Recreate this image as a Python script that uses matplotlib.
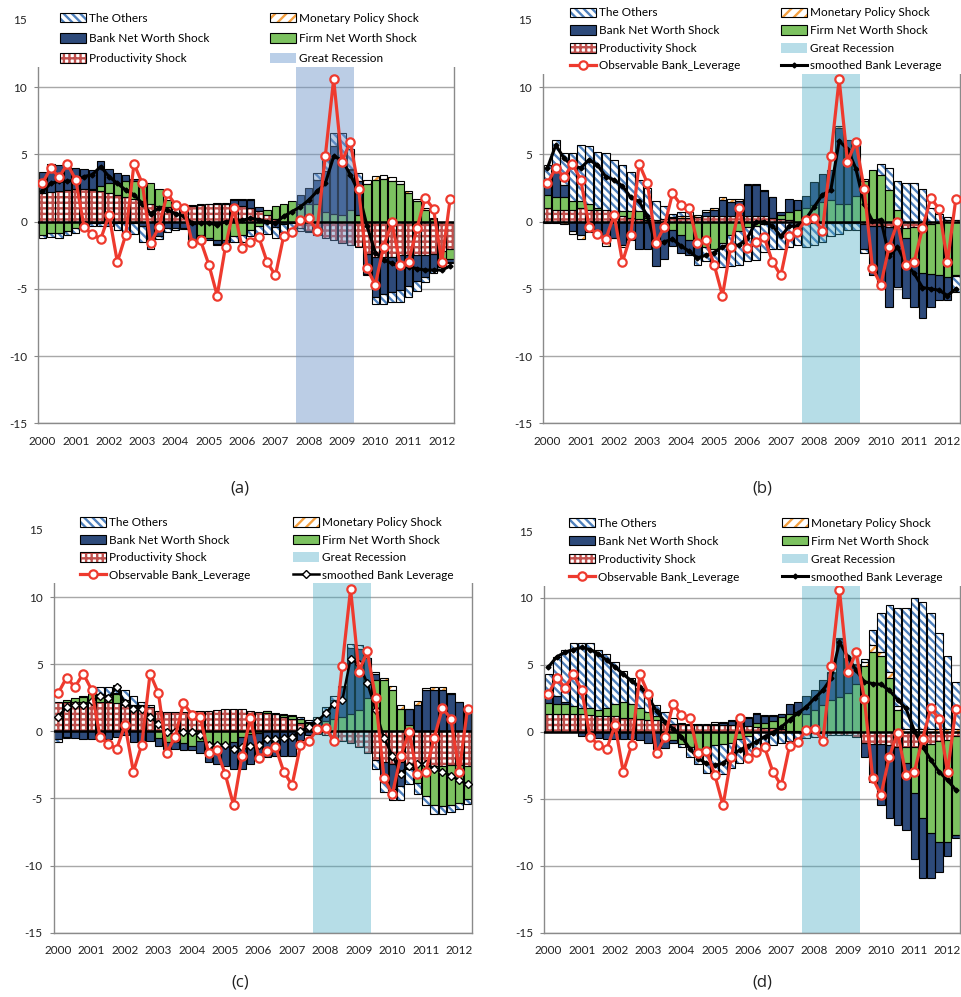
import numpy as np
import matplotlib
matplotlib.use("Agg")
import matplotlib.pyplot as plt
from matplotlib.patches import Rectangle, Patch
from matplotlib.lines import Line2D

plt.rcParams['font.family'] = ['Lato', 'DejaVu Sans']
plt.rcParams['hatch.linewidth'] = 1.7

years = [str(y) for y in range(2000, 2013)]
N = 50

observable = [2.85, 4.0, 3.3, 4.3, 3.1, -0.4, -0.95, -1.3, 0.5, -3.0, -1.0, 4.3, 2.85, -1.6, -0.4,
              2.1, 1.25, 1.05, -1.6, -1.4, -3.2, -5.5, -1.85, 1.0, -1.95, -1.5, -1.15, -3.0, -4.0,
              -1.05, -0.75, 0.15, 0.25, -0.7, 4.9, 10.6, 4.45, 5.95, 2.45, -3.45, -4.7, -1.85, -0.05,
              -3.2, -3.0, -0.5, 1.75, 0.95, -3.0, 1.7]

# ---------------- panel (a) ----------------
a_prod = [2.1, 2.2, 2.3, 2.35, 2.4, 2.4, 2.35, 2.25, 2.1, 2.0, 1.85, 1.7, 1.5, 1.35, 1.2,
          1.1, 1.0, 1.1, 1.2, 1.25, 1.3, 1.35, 1.35, 1.3, 1.2, 1.0, 0.8, 0.5, 0.2, 0.0,
          -0.1, -0.5, -0.7, -1.0, -1.2, -1.4, -1.6, -1.75, -1.9, -2.4, -2.6, -2.6, -2.6, -2.5, -2.5,
          -2.5, -2.5, -2.4, -2.2, -2.0]
a_firm = [-1.0, -0.85, -0.85, -0.7, -0.5, -0.05, 0.1, 0.4, 0.8, 0.85, 1.2, 1.3, 1.45, 1.55, 1.2,
          0.5, 0.05, 0.0, -0.2, -1.0, -1.2, -1.35, -1.4, -1.1, -1.0, -0.6, -0.3, 0.4, 0.95, 1.3,
          1.5, 1.3, 1.3, 1.3, 0.75, 0.6, 0.5, 0.85, 0.5, 2.8, 3.1, 3.2, 3.05, 2.8, 2.1,
          1.55, 0.9, 0.2, -0.6, -0.8]
a_bank = [1.6, 2.1, 1.9, 1.8, 1.6, 1.55, 1.4, 1.85, 1.05, 0.8, 0.45, 0.2, -0.3, -1.6, -1.1,
          -0.5, -0.5, -0.5, -1.2, -0.35, -0.15, -0.3, -0.2, 0.3, 0.4, 0.6, 0.3, -0.1, -0.4, -0.2,
          0.0, 0.7, 1.2, 1.8, 3.0, 5.0, 3.85, 3.0, 2.5, -1.5, -3.0, -2.8, -2.6, -2.6, -2.3,
          -1.9, -1.6, -1.2, -0.4, -0.2]
a_mon = [0, 0, 0, 0, 0, -0.1, -0.1, -0.1, -0.1, -0.1, -0.1, -0.1, -0.05, 0, 0,
         0, 0, 0.05, 0.05, 0.05, 0.05, 0.05, 0.05, 0.05, 0.05, 0.1, 0, 0, 0, 0,
         0, 0, 0, 0, 0, 0, 0, 0.05, 0.05, 0.3, 0.3, 0.3, 0.3, 0.2, 0.2,
         0.15, 0.1, 0.05, 0, 0]
a_oth = [-0.25, -0.3, -0.35, -0.3, -0.35, -0.15, -0.2, -0.2, -0.25, -0.5, -0.8, -0.8, -1.2, -0.4, -0.2,
         -0.3, -0.1, -0.05, 0, 0, 0, -0.05, -0.05, -0.4, -0.5, -0.5, -0.6, -0.8, -0.8, -0.6,
         -0.6, -0.2, -0.1, 0.5, 0.9, 1.0, 2.25, 1.5, 0.55, -0.1, -0.5, -0.7, -0.8, -0.9, -0.8,
         -0.75, -0.4, -0.25, -0.2, -0.1]
a_smooth = [2.25, 2.85, 3.0, 3.0, 3.1, 3.35, 3.5, 4.1, 3.35, 2.85, 2.35, 2.0, 1.35, 0.6, 1.0,
            0.85, 0.6, 0.4, -0.1, -0.1, -0.1, -0.25, 0.0, 0.1, 0.1, 0.25, 0.15, 0.0, -0.1, 0.4,
            0.75, 1.1, 1.6, 2.25, 2.85, 4.85, 4.6, 3.5, 2.2, -0.3, -2.3, -2.85, -3.1, -3.35, -3.35,
            -3.5, -3.6, -3.6, -3.6, -3.3]

# ---------------- panel (b) ----------------
b_prod = [1.0, 0.9, 0.9, 0.9, 1.05, 0.9, 0.9, 0.9, 0.5, 0.4, 0.3, 0.2, 0.1, 0.1, 0.2,
          0.3, 0.3, 0.3, 0.35, 0.4, 0.4, 0.4, 0.45, 0.5, 0.4, 0.4, 0.4, 0.3, 0.2, 0.1,
          0.0, -0.05, -0.1, -0.1, -0.1, -0.1, -0.1, -0.1, -0.2, -0.3, -0.35, -0.4, -0.5, -0.45, -0.4,
          -0.3, -0.2, -0.1, 0.1, 0.1]
b_firm = [1.0, 0.9, 0.95, 0.6, 0.45, 0.45, 0.1, 0.0, 0.2, 0.4, 0.5, 0.6, 0.2, 0.0, -0.3,
          -0.6, -1.0, -1.4, -1.6, -1.9, -2.0, -1.6, -1.0, -0.7, -0.4, -0.3, -0.2, 0.0, 0.3, 0.6,
          0.85, 1.0, 1.25, 1.45, 1.6, 1.3, 1.3, 1.9, 3.0, 3.85, 3.5, 2.35, 0.85, -0.8, -2.6,
          -3.5, -3.7, -3.9, -4.1, -3.95]
b_bank = [0.9, 2.0, 0.85, -0.7, -1.0, -0.5, -0.6, -1.6, -1.2, -1.75, -1.3, -2.0, -2.0, -3.3, -2.5,
          -1.2, -1.35, -1.1, -1.0, 0.3, 0.5, 1.2, 1.0, 1.0, 2.3, 2.3, 1.85, 1.5, 0.25, 0.95,
          0.75, 0.9, 1.7, 2.1, 2.25, 5.7, 4.8, 3.95, -1.8, -3.7, -4.25, -5.95, -4.35, -4.45, -3.35,
          -3.4, -2.45, -1.85, -1.75, -0.1]
b_mon = [-0.1, -0.1, -0.15, -0.2, -0.3, -0.3, -0.15, -0.2, -0.05, -0.15, -0.1, 0, 0, 0, 0,
         0.05, 0.15, 0.15, 0.15, 0.15, 0.15, 0.2, 0.2, 0.2, 0.1, 0.1, 0.1, 0.05, 0, 0,
         0, 0, 0, 0, 0, 0.1, 0, 0, 0.15, 0, 0, 0, 0, 0, 0,
         0, 0, 0, 0.05, 0.05]
b_oth = [1.3, 2.3, 2.4, 3.6, 4.2, 4.25, 4.2, 4.2, 3.9, 3.4, 2.9, 2.3, 2.2, 1.45, 0.95,
         0.25, 0.3, 0.25, -0.65, -1.0, -1.2, -1.75, -2.3, -2.5, -2.5, -2.55, -2.05, -2.0, -2.0, -1.85,
         -1.75, -1.8, -1.6, -1.4, -1.0, -0.8, -0.5, -0.5, -0.35, 0.0, 0.8, 1.65, 2.15, 2.85, 2.85,
         2.4, 1.0, 0.55, 0.2, -1.2]
b_smooth = [4.0, 5.7, 4.7, 4.15, 4.0, 4.6, 4.2, 3.35, 3.1, 2.65, 1.8, 1.5, 0.4, -1.75, -1.5,
            -1.3, -1.8, -2.2, -2.7, -2.5, -2.3, -1.85, -1.75, -1.75, -1.2, -0.05, 0.0, -0.3, -1.1, -0.35,
            -0.3, 0.2, 1.1, 2.0, 2.35, 6.0, 5.4, 3.95, 1.3, 0.05, 0.15, -2.55, -1.9, -3.1, -3.85,
            -4.9, -5.0, -5.1, -5.5, -5.0]

# ---------------- panel (c) ----------------
c_prod = [2.2, 2.2, 2.2, 2.2, 2.2, 2.2, 2.15, 2.1, 2.0, 1.9, 1.9, 1.8, 1.55, 1.45, 1.45,
          1.45, 1.5, 1.55, 1.55, 1.6, 1.65, 1.7, 1.7, 1.55, 1.45, 1.4, 1.3, 1.1, 0.9, 0.6,
          0.3, -0.2, -0.3, -0.5, -0.7, -0.9, -1.15, -1.6, -2.15, -2.3, -2.4, -2.3, -2.8, -2.4, -2.5,
          -2.6, -2.6, -2.5, -2.5, -2.6]
c_firm = [0.0, 0.1, 0.25, 0.35, 0.55, 0.6, 0.55, 0.7, 0.3, 0.1, 0.05, 0.0, -0.5, -0.8, -0.8,
          -0.9, -1.1, -0.7, -0.9, -1.05, -1.1, -0.8, -0.4, -0.2, -0.1, 0.1, 0.05, 0.15, 0.25, 0.3,
          0.35, 0.5, 0.8, 0.9, 1.1, 1.3, 1.6, 2.45, 3.8, 3.8, 3.1, 1.7, 0.45, -1.45, -2.3,
          -2.9, -2.95, -3.0, -2.85, -2.45]
c_bank = [-0.55, -0.45, -0.5, -0.6, -0.6, -0.55, -0.6, -0.45, -0.3, -0.8, -0.85, -0.7, -0.6, -0.5, -0.55,
          -0.5, -0.3, -0.9, -1.4, -1.35, -1.45, -2.0, -2.4, -2.2, -1.95, -1.9, -1.8, -1.8, -1.85, -0.65,
          -0.3, 0.4, 0.75, 1.4, 2.2, 4.9, 4.5, 3.0, 0.5, -1.5, -1.9, -1.8, 1.2, 1.95, 3.05,
          3.1, 3.1, 2.75, 2.15, 1.5]
c_mon = [0, 0, 0, 0, 0, 0, 0, 0.05, 0, 0, 0, 0, 0, 0, 0,
         0, 0, 0, 0, 0, 0, 0, 0, 0, 0, 0.05, 0, 0, 0.05, 0.05,
         0.05, 0, 0, 0, 0, 0, 0, 0.05, 0.15, 0.2, 0.25, 0.3, 0.05, 0.3, 0.15,
         0.2, 0.2, 0.1, 0.05, 0.05]
c_oth = [-0.25, -0.05, 0.0, 0.1, 0.05, 0.5, 0.6, 0.6, 0.8, 0.65, 0.2, 0.2, 0, 0, 0,
         0, 0, 0, 0, 0, 0, 0, 0, 0, 0, 0, 0, 0.05, 0, 0.1,
         0.15, 0.15, 0.3, 0.35, 0.1, 0.3, 0.3, 0.0, -0.65, -0.7, -0.8, -1.0, -1.1, -0.8, -0.7,
         -0.65, -0.6, -0.5, -0.4, -0.35]
c_smooth = [1.1, 1.8, 1.95, 1.95, 2.25, 2.6, 2.45, 3.3, 2.1, 1.7, 1.7, 1.1, 0.55, -0.05, -0.05,
            -0.05, -0.05, -0.25, -1.0, -1.0, -1.0, -1.3, -1.2, -1.1, -1.0, -0.6, -0.6, -0.5, -0.4, 0.05,
            0.3, 0.75, 1.35, 2.05, 2.3, 5.4, 5.0, 3.6, 1.6, -0.5, -1.8, -3.15, -2.55, -2.4, -2.4,
            -2.8, -3.0, -3.3, -3.65, -3.95]

# ---------------- panel (d) ----------------
d_prod = [1.3, 1.3, 1.3, 1.3, 1.3, 1.25, 1.2, 1.2, 1.15, 1.05, 1.0, 0.95, 0.9, 0.85, 0.7,
          0.6, 0.55, 0.5, 0.5, 0.5, 0.5, 0.5, 0.5, 0.45, 0.4, 0.35, 0.3, 0.3, 0.2, 0.1,
          0.05, 0.0, -0.05, -0.1, -0.2, -0.2, -0.2, -0.35, -0.85, -0.9, -0.9, -1.0, -1.1, -1.1, -1.1,
          -1.05, -0.9, -0.7, -0.6, -0.3]
d_firm = [0.85, 0.8, 0.75, 0.6, 0.5, 0.5, 0.45, 0.6, 0.95, 1.2, 1.1, 0.85, 0.6, 0.3, -0.7,
          -0.6, -0.9, -1.1, -1.25, -1.1, -0.95, -0.9, -0.8, -0.5, -0.3, 0.3, 0.35, 0.5, 0.9, 1.2,
          1.45, 1.35, 1.6, 2.0, 2.4, 2.6, 2.9, 3.6, 4.9, 6.0, 5.65, 4.0, 1.6, -1.2, -3.5,
          -5.4, -6.65, -7.5, -7.6, -7.4]
d_bank = [0.5, 0.6, 0.15, 0.0, -0.3, -0.4, -0.45, -0.5, -0.5, -0.5, -0.55, -0.6, -0.8, -1.3, -0.5,
          -0.2, 0.0, 0.0, 0.0, 0.0, 0.1, 0.15, 0.3, 0.45, 0.6, 0.65, 0.55, 0.35, 0.2, 0.8,
          0.75, 1.3, 1.55, 1.85, 2.0, 4.3, 2.5, 1.4, -1.0, -2.85, -4.6, -5.45, -5.85, -5.0, -4.9,
          -4.45, -3.4, -2.3, -1.1, -0.25]
d_mon = [0, 0, 0, 0, 0, 0, 0, 0, 0, 0, 0, 0, 0, 0, 0,
         0, 0.1, 0.1, 0.1, 0.1, 0.1, 0.1, 0.1, 0.1, 0.1, 0.1, 0.05, 0.1, 0.05, 0,
         0, 0, 0, 0, 0, 0.05, 0, 0, 0.3, 0.45, 0.3, 0.45, 0.35, 0.25, 0.25,
         0.25, 0.25, 0.25, 0.2, 0.2]
d_oth = [1.65, 2.9, 3.9, 4.7, 4.85, 4.85, 4.45, 4.0, 3.1, 2.3, 1.9, 1.5, 1.3, 0.85, 0.8,
         0.45, -0.2, -0.8, -1.15, -1.95, -2.1, -2.25, -1.9, -1.8, -1.5, -1.5, -1.1, -0.95, -0.85, -0.65,
         -0.55, -0.45, -0.35, -0.25, 0.1, 0.05, 0.1, 0.05, 0.25, 1.15, 2.95, 5.0, 7.3, 9.0, 9.75,
         9.45, 8.6, 7.1, 5.5, 3.55]
d_smooth = [4.85, 5.6, 5.95, 6.15, 6.3, 6.15, 5.85, 5.35, 4.85, 4.3, 3.8, 3.35, 2.6, 1.55, 0.75,
            0.25, -0.35, -1.25, -2.0, -2.35, -2.5, -2.35, -1.8, -1.35, -1.05, -0.75, -0.35, -0.05, 0.35, 0.9,
            1.4, 1.85, 2.5, 3.1, 4.0, 6.7, 5.6, 4.6, 3.75, 3.6, 3.55, 3.1, 2.4, 1.75, 0.1,
            -1.1, -2.1, -3.0, -3.6, -4.35]

recession = (31, 37)  # indices of 2007Q4 .. 2009Q2

# ---------------- styles ----------------
BANK = '#2D4A7A'
FIRM = '#7CC260'
OTH_H = '#4F81BD'
PROD_H = '#C0504D'
MON_H = '#F5A040'
RED = '#EE3A2E'

W, H = 962, 997
fig = plt.figure(figsize=(9.62, 9.97), dpi=100)


def fx(px):
    return px / W


def fy(py):
    return 1 - py / H


series_style = [
    ('Productivity Shock', dict(hatch='+++', hc=PROD_H)),
    ('Firm Net Worth Shock', dict(fc=FIRM)),
    ('Bank Net Worth Shock', dict(fc=BANK)),
    ('Monetary Policy Shock', dict(hatch='///', hc=MON_H)),
    ('The Others', dict(hatch='\\\\\\\\', hc=OTH_H)),
]


def legend_handle(style):
    if 'hatch' in style:
        p1 = Patch(facecolor='white', edgecolor=style['hc'], hatch=style['hatch'], lw=0)
        p2 = Patch(facecolor='none', edgecolor='black', lw=0.8)
        return (p1, p2)
    return Patch(facecolor=style['fc'], edgecolor='black', lw=0.8)


def panel(rect_px, comps, smooth, shade, shade_alpha, cover, leg, with_lines, smooth_style, label, label_xy):
    x0, y0, x1, y1 = rect_px  # left, top(15), right, bottom(-15)
    ax = fig.add_axes([fx(x0), fy(y1), fx(x1 - x0), (y1 - y0) / H])
    x = np.arange(N)
    pos = np.zeros(N)
    neg = np.zeros(N)
    for vals, (name, st) in zip(comps, series_style):
        v = np.asarray(vals, dtype=float)
        bottom = np.where(v >= 0, pos, neg)
        m = np.abs(v) > 1e-9
        if 'hatch' in st:
            ax.bar(x[m], v[m], 0.9, bottom=bottom[m], facecolor='white', edgecolor=st['hc'],
                   hatch=st['hatch'], lw=0, zorder=2)
        else:
            ax.bar(x[m], v[m], 0.9, bottom=bottom[m], facecolor=st['fc'], lw=0, zorder=2)
        ax.bar(x[m], v[m], 0.9, bottom=bottom[m], fill=False, edgecolor='black', lw=0.8, zorder=2.1)
        pos += np.where(v > 0, v, 0)
        neg += np.where(v < 0, v, 0)

    ax.axvspan(recession[0] - 0.5, recession[1] + 0.5, facecolor=shade, alpha=shade_alpha, lw=0, zorder=2.5)
    ax.axhline(0, color='black', lw=1.8, zorder=2.6)

    ax.plot(x, smooth, **smooth_style, zorder=3)
    ax.plot(x, observable, color=RED, lw=2.3, marker='o', ms=6, mfc='white', mec=RED, mew=1.6, zorder=3.5)

    ax.set_xlim(-0.5, N - 0.5)
    ax.set_ylim(-15, 15)
    ax.set_yticks([-15, -10, -5, 0, 5, 10, 15])
    ax.set_yticklabels(['-15', '-10', '-5', '0', '5', '10', '15'])
    ax.set_xticks(range(0, N, 4))
    ax.set_xticklabels(years)
    ax.tick_params(axis='x', length=0, pad=9, labelsize=8.5, colors='#222222')
    ax.tick_params(axis='y', length=3, width=0.8, color='#888888', pad=5, labelsize=8.5, labelcolor='#222222')
    ax.yaxis.grid(True, color='#A8A8A8', lw=1.0, zorder=0.5)
    ax.set_axisbelow(True)
    for s in ['left', 'bottom', 'right']:
        ax.spines[s].set_color('#8A8A8A')
        ax.spines[s].set_linewidth(1.0)
    ax.spines['top'].set_visible(False)

    # white cover behind the legend
    ax.add_patch(Rectangle((-0.02, cover), 1.04, 1 - cover + 0.01, transform=ax.transAxes,
                           facecolor='white', edgecolor='none', zorder=4, clip_on=False))

    lx1, lx2, ly, spacing = leg
    shade_disp = shade_display[shade]
    col1_h = [legend_handle(series_style[4][1]), legend_handle(series_style[2][1]),
              legend_handle(series_style[0][1])]
    col1_l = ['The Others', 'Bank Net Worth Shock', 'Productivity Shock']
    col2_h = [legend_handle(series_style[3][1]), legend_handle(series_style[1][1]),
              Patch(facecolor=shade_disp, edgecolor='none')]
    col2_l = ['Monetary Policy Shock', 'Firm Net Worth Shock', 'Great Recession']
    if with_lines:
        col1_h.append(Line2D([], [], color=RED, lw=2.3, marker='o', ms=6, mfc='white', mec=RED, mew=1.6))
        col1_l.append('Observable Bank_Leverage')
        col2_h.append(Line2D([], [], **smooth_style))
        col2_l.append('smoothed Bank Leverage')
    common = dict(loc='upper left', frameon=False, fontsize=8.5, handlelength=2.2, handleheight=0.9,
                  handletextpad=0.25, borderpad=0, borderaxespad=0, labelspacing=spacing,
                  bbox_transform=fig.transFigure)
    l1 = ax.legend(col1_h, col1_l, bbox_to_anchor=(fx(lx1), fy(ly)), **common)
    l1.set_zorder(5)
    ax.add_artist(l1)
    l2 = ax.legend(col2_h, col2_l, bbox_to_anchor=(fx(lx2), fy(ly)), **common)
    l2.set_zorder(5)

    fig.text(fx(label_xy[0]), fy(label_xy[1]), label, ha='center', va='center', fontsize=12,
             family=['Open Sans', 'DejaVu Sans'], color='#222222')
    return ax


SHADE_A = '#6A92C7'
SHADE_B = '#3FA6C0'
shade_display = {SHADE_A: '#BACFE8', SHADE_B: '#B7DDE8'}

smooth_plain = dict(color='black', lw=2.2, marker='D', ms=2.5, mfc='black', mec='black')
smooth_c = dict(color='black', lw=1.8, marker='D', ms=4.5, mfc='white', mec='black', mew=1.0)

panel((38.3, 20, 454.3, 423.3), [a_prod, a_firm, a_bank, a_mon, a_oth], a_smooth,
      SHADE_A, 0.45, 0.884, (60, 270, 12.5, 0.78), False, smooth_plain, '(a)', (240, 488))
panel((543.3, 20, 960, 423.3), [b_prod, b_firm, b_bank, b_mon, b_oth], b_smooth,
      SHADE_B, 0.38, 0.866, (570, 781, 7.5, 0.56), True, smooth_plain, '(b)', (762, 488))
panel((54, 530, 471.7, 932.7), [c_prod, c_firm, c_bank, c_mon, c_oth], c_smooth,
      SHADE_B, 0.38, 0.868, (80, 293, 517, 0.56), True, smooth_c, '(c)', (240, 982))
panel((544.3, 531, 960, 932.7), [d_prod, d_firm, d_bank, d_mon, d_oth], d_smooth,
      SHADE_B, 0.38, 0.863, (569, 782, 517.5, 0.6), True, smooth_plain, '(d)', (762, 982))

fig.savefig('out.png', dpi=100)
